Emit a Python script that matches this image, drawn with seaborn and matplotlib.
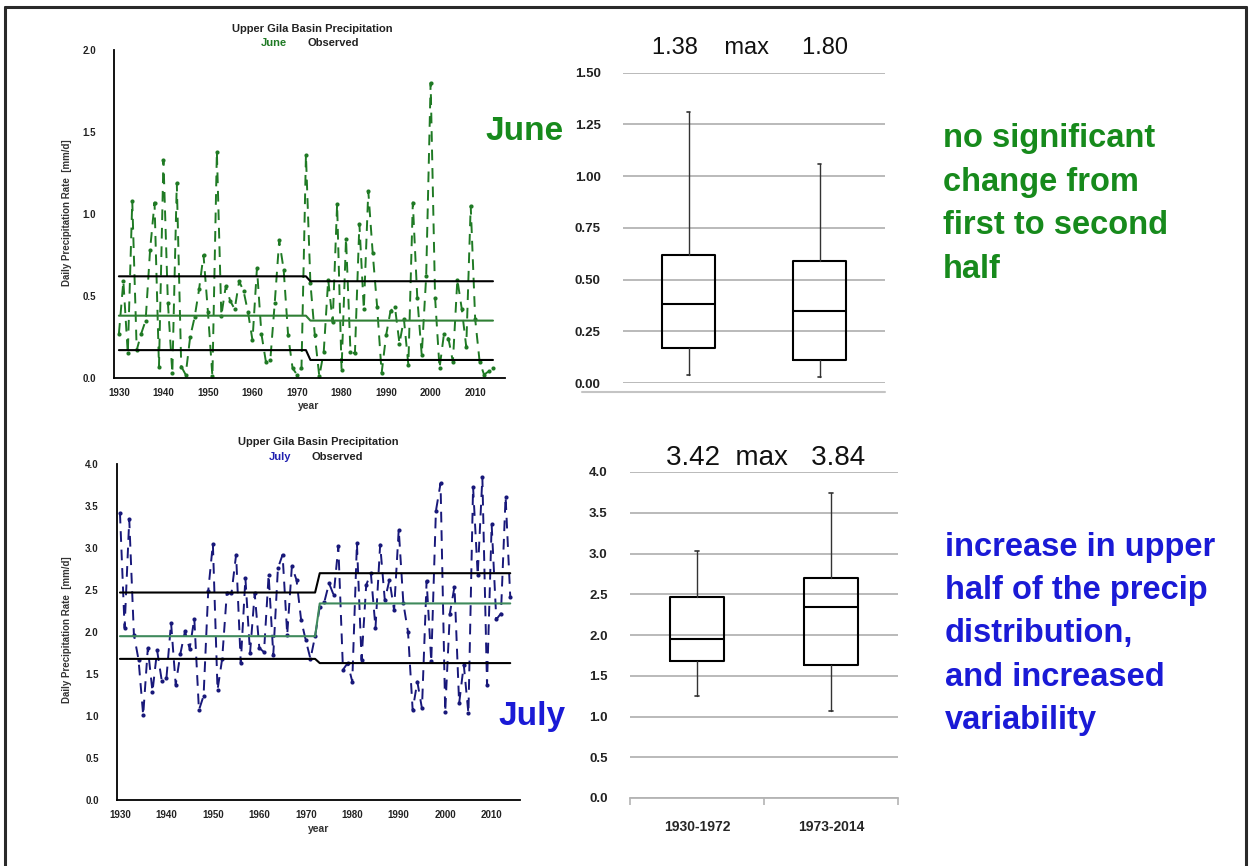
import numpy as np
import pandas as pd
import seaborn as sns
import matplotlib
matplotlib.use("Agg")
import matplotlib.pyplot as plt
from matplotlib import font_manager
from matplotlib.lines import Line2D
from matplotlib.ticker import MultipleLocator, FormatStrFormatter

# ---------------- data ----------------
years = np.arange(1930, 2015)

june_obs = [0.27, 0.59, 0.15, 1.08, 0.17, 0.27, 0.35, 0.78, 1.07, 0.07,
            1.33, 0.46, 0.03, 1.19, 0.07, 0.02, 0.25, 0.37, 0.54, 0.75,
            0.40, 0.01, 1.38, 0.38, 0.56, 0.47, 0.42, 0.59, 0.53, 0.40,
            0.23, 0.67, 0.27, 0.10, 0.11, 0.46, 0.84, 0.66, 0.26, 0.06,
            0.02, 0.06, 1.36, 0.58, 0.26, 0.01, 0.16, 0.60, 0.34, 1.06,
            0.05, 0.85, 0.16, 0.15, 0.94, 0.42, 1.14, 0.76, 0.43, 0.03,
            0.26, 0.41, 0.43, 0.21, 0.36, 0.08, 1.07, 0.49, 0.14, 0.62,
            1.80, 0.49, 0.06, 0.27, 0.24, 0.10, 0.60, 0.42, 0.19, 1.05,
            0.36, 0.10, 0.02, 0.04, 0.06]

july_obs = [3.42, 2.05, 3.34, 1.97, 1.67, 1.01, 1.81, 1.29, 1.78, 1.42,
            1.45, 2.11, 1.37, 1.74, 2.01, 1.80, 2.16, 1.07, 1.24, 2.49,
            3.05, 1.31, 1.68, 2.46, 2.46, 2.92, 1.63, 2.64, 1.75, 2.46,
            1.81, 1.76, 2.68, 1.73, 2.76, 2.92, 1.97, 2.78, 2.62, 2.14,
            1.90, 1.68, 1.95, 2.30, 2.36, 2.58, 2.44, 3.02, 1.55, 1.63,
            1.41, 3.06, 1.67, 2.56, 2.70, 2.05, 3.04, 2.38, 2.62, 2.26,
            3.22, 2.34, 2.00, 1.07, 1.41, 1.09, 2.61, 1.65, 3.44, 3.77,
            1.05, 2.22, 2.54, 1.15, 1.61, 1.03, 3.73, 2.68, 3.84, 1.37,
            3.28, 2.15, 2.22, 3.61, 2.42]

period_start = [1930, 1973]
period_end = [1972, 2014]
period_labels = ["1930-1972", "1973-2014"]

# per-period box statistics (lower whisker, q1, median, q3, upper whisker)
june_whislo = [0.04, 0.03]
june_q1 = [0.17, 0.11]
june_med = [0.38, 0.35]
june_q3 = [0.62, 0.59]
june_whishi = [1.31, 1.06]

july_whislo = [1.25, 1.07]
july_q1 = [1.68, 1.63]
july_med = [1.95, 2.34]
july_q3 = [2.47, 2.70]
july_whishi = [3.03, 3.74]

# ---------------- style ----------------
sns.set_theme(style="white")


def have_font(name):
    try:
        font_manager.findfont(font_manager.FontProperties(family=name),
                              fallback_to_default=False)
        return True
    except Exception:
        return False


NARROW = "Liberation Sans Narrow" if have_font("Liberation Sans Narrow") else "Liberation Sans"
plt.rcParams["font.family"] = ["Liberation Sans", "DejaVu Sans"]

W, H = 1249, 866
fig = plt.figure(figsize=(W / 100, H / 100), dpi=100)
fig.patch.set_facecolor("white")


def fx(px):
    return px / W


def fy(py):
    return 1 - py / H


def axes_px(left, top, right, bottom):
    return fig.add_axes([fx(left), fy(bottom), (right - left) / W, (bottom - top) / H])


GREEN_LINE = "#1f7a24"
NAVY_LINE = "#18187a"
MED_GREEN_J = "#2f7f34"
MED_GREEN_L = "#3f8a5c"
TXT_GREEN = "#178a1c"
TXT_BLUE = "#1a1ad6"


def step_frame(q):
    xs, ys = [], []
    for s, e, v in zip(period_start, period_end, q):
        xs += [s, e]
        ys += [v, v]
    return pd.DataFrame({"year": xs, "value": ys})


def series_panel(ax, values, color, q1, med, q3, med_color, ymax, ystep, minor_step):
    df = pd.DataFrame({"year": years, "value": values})
    sns.lineplot(data=df, x="year", y="value", ax=ax, color=color,
                 linewidth=1.4, linestyle=(0, (5.5, 4)), marker="o",
                 markersize=3, markeredgewidth=0, markerfacecolor=color)
    for q, c in ((q3, "black"), (med, med_color), (q1, "black")):
        sdf = step_frame(q)
        sns.lineplot(data=sdf, x="year", y="value", ax=ax, color=c,
                     linewidth=1.5, sort=False)
    ax.set_ylim(0, ymax)
    ax.yaxis.set_major_locator(MultipleLocator(ystep))
    ax.yaxis.set_major_formatter(FormatStrFormatter("%.1f"))
    ax.xaxis.set_major_locator(MultipleLocator(10))
    ax.xaxis.set_minor_locator(MultipleLocator(minor_step))
    for s in ("top", "right"):
        ax.spines[s].set_visible(False)
    for s in ("left", "bottom"):
        ax.spines[s].set_color("black")
        ax.spines[s].set_linewidth(1.3)
    ax.tick_params(axis="both", which="both", direction="out", colors="black",
                   labelcolor="#222222", width=1.0)
    ax.tick_params(axis="both", which="major", length=4, labelsize=7, pad=3)
    ax.tick_params(axis="x", which="minor", length=3 if minor_step == 2 else 4)
    ax.tick_params(axis="y", which="major", pad=9)
    for lab in ax.get_xticklabels() + ax.get_yticklabels():
        lab.set_fontweight("bold")
        lab.set_family(NARROW)
    ax.set_xlabel("")
    ax.set_ylabel("")
    ax.grid(False)


# ---------------- June time series ----------------
ax_j = axes_px(114, 50, 505, 378)
series_panel(ax_j, june_obs, GREEN_LINE, june_q1, june_med, june_q3,
             MED_GREEN_J, 2.0, 0.5, 5)
ax_j.set_xlim(1928.9, 2016.7)

fig.text(fx(312), fy(29), "Upper Gila Basin Precipitation", ha="center", va="center",
         fontsize=8, fontweight="bold", color="#222222")
fig.text(fx(274), fy(43), "June", ha="center", va="center", fontsize=8,
         fontweight="bold", color=GREEN_LINE)
fig.text(fx(333), fy(43), "Observed", ha="center", va="center", fontsize=8,
         fontweight="bold", color="#222222")
fig.text(fx(67), fy(213), "Daily Precipitation Rate  [mm/d]", rotation=90,
         ha="center", va="center", fontsize=7, fontweight="bold", color="#333333",
         family=NARROW)
fig.text(fx(309), fy(406), "year", ha="center", va="center", fontsize=7.5,
         fontweight="bold", color="#333333", family=NARROW)

# ---------------- July time series ----------------
ax_l = axes_px(116.7, 464, 520, 800)
series_panel(ax_l, july_obs, NAVY_LINE, july_q1, july_med, july_q3,
             MED_GREEN_L, 4.0, 0.5, 2)
ax_l.set_xlim(1929.3, 2016.1)

fig.text(fx(318), fy(442), "Upper Gila Basin Precipitation", ha="center", va="center",
         fontsize=8, fontweight="bold", color="#222222")
fig.text(fx(280), fy(457), "July", ha="center", va="center", fontsize=8,
         fontweight="bold", color="#2020b0")
fig.text(fx(337), fy(457), "Observed", ha="center", va="center", fontsize=8,
         fontweight="bold", color="#222222")
fig.text(fx(67), fy(630), "Daily Precipitation Rate  [mm/d]", rotation=90,
         ha="center", va="center", fontsize=7, fontweight="bold", color="#333333",
         family=NARROW)
fig.text(fx(319), fy(829), "year", ha="center", va="center", fontsize=7.5,
         fontweight="bold", color="#333333", family=NARROW)

# month labels beside the series
fig.text(fx(525), fy(131), "June", ha="center", va="center", fontsize=24,
         fontweight="bold", color=TXT_GREEN)
fig.text(fx(532), fy(716), "July", ha="center", va="center", fontsize=24,
         fontweight="bold", color=TXT_BLUE)


# ---------------- box plots ----------------
def box_panel(ax, lo, q1, med, q3, hi, ymax, ystep, fmt):
    stats = []
    for i in range(len(period_labels)):
        stats.append(dict(whislo=lo[i], q1=q1[i], med=med[i], q3=q3[i],
                          whishi=hi[i], fliers=[], label=period_labels[i]))
    ax.bxp(stats, positions=list(range(len(stats))), widths=0.4, showfliers=False,
           boxprops=dict(color="black", linewidth=1.5),
           medianprops=dict(color="black", linewidth=1.5),
           whiskerprops=dict(color="#333333", linewidth=1.0),
           capprops=dict(color="#333333", linewidth=1.2), capwidths=0.03)
    ax.set_xlim(-0.5, len(stats) - 0.5)
    ax.set_ylim(0, ymax)
    ax.yaxis.set_major_locator(MultipleLocator(ystep))
    ax.yaxis.set_major_formatter(FormatStrFormatter(fmt))
    ax.yaxis.grid(True, color="#b4b4b4", linewidth=1.3)
    ax.xaxis.grid(False)
    ax.set_axisbelow(True)
    for s in ax.spines.values():
        s.set_visible(False)
    ax.tick_params(axis="y", length=0, labelsize=9.5, pad=16, labelcolor="#222222")
    for lab in ax.get_yticklabels():
        lab.set_fontweight("bold")
        lab.set_family(NARROW)


ax_bj = axes_px(623, 72.7, 885, 383)
box_panel(ax_bj, june_whislo, june_q1, june_med, june_q3, june_whishi, 1.5, 0.25, "%.2f")
ax_bj.set_xticks([])
fig.add_artist(Line2D([fx(582), fx(885)], [fy(392), fy(392)], color="#c4c4c4", lw=1.5))

ax_bl = axes_px(630, 472, 898, 798)
box_panel(ax_bl, july_whislo, july_q1, july_med, july_q3, july_whishi, 4.0, 0.5, "%.1f")
ax_bl.spines["bottom"].set_visible(True)
ax_bl.spines["bottom"].set_color("#b4b4b4")
ax_bl.spines["bottom"].set_linewidth(1.3)
ax_bl.set_xticks(range(len(period_labels)))
ax_bl.set_xticklabels(period_labels)
ax_bl.set_xticks([-0.5, 0.5, 1.5], minor=True)
ax_bl.tick_params(axis="x", which="major", length=0, labelsize=10, pad=16)
ax_bl.tick_params(axis="x", which="minor", length=5, width=1.2, color="#b4b4b4",
                  direction="out", bottom=True)
for lab in ax_bl.get_xticklabels():
    lab.set_fontweight("bold")
    lab.set_family(NARROW)

# period maxima above each box panel
june_max = f"{max(june_obs[:43]):.2f}    max     {max(june_obs[43:]):.2f}"
july_max = f"{max(july_obs[:43]):.2f}  max   {max(july_obs[43:]):.2f}"
fig.text(fx(750), fy(48), june_max, ha="center", va="center", fontsize=17,
         color="#111111")
fig.text(fx(766), fy(458), july_max, ha="center", va="center", fontsize=20,
         color="#111111")

# ---------------- commentary ----------------
green_lines = ["no significant", "change from", "first to second", "half"]
for i, t in enumerate(green_lines):
    fig.text(fx(943), fy(147 + 43.5 * i), t, ha="left", va="baseline",
             fontsize=23.5, fontweight="bold", color=TXT_GREEN)

blue_lines = ["increase in upper", "half of the precip", "distribution,",
              "and increased", "variability"]
for i, t in enumerate(blue_lines):
    fig.text(fx(945), fy(556 + 43.2 * i), t, ha="left", va="baseline",
             fontsize=23.5, fontweight="bold", color=TXT_BLUE)

# slide frame
frame_kw = dict(color="#2a2a2a", lw=2.2)
fig.add_artist(Line2D([fx(5), fx(1246)], [fy(7), fy(7)], **frame_kw))
fig.add_artist(Line2D([fx(5), fx(5)], [fy(7), fy(866)], **frame_kw))
fig.add_artist(Line2D([fx(1246), fx(1246)], [fy(7), fy(866)], **frame_kw))

fig.savefig("out.png", dpi=100, facecolor="white")
